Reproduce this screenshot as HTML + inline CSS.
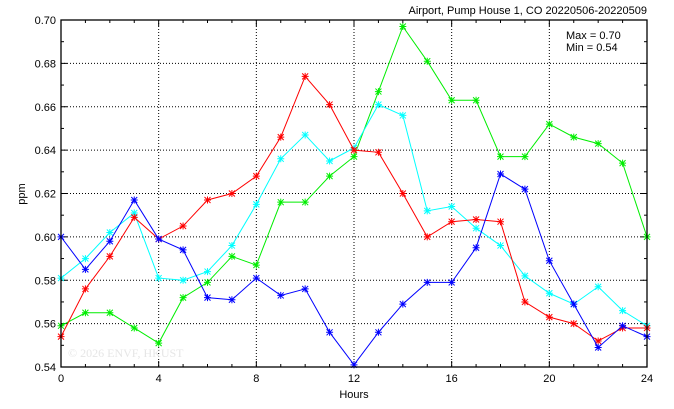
<!DOCTYPE html>
<html><head><meta charset="utf-8"><style>
html,body{margin:0;padding:0;background:#fff;width:674px;height:409px;overflow:hidden}
svg text{font-family:"Liberation Sans",sans-serif;font-size:11px;fill:#000}
</style></head><body>
<svg id="s" width="674" height="409" xmlns="http://www.w3.org/2000/svg"></svg>
<script>
const s=document.getElementById('s');
const X0=61,X1=647,Y0=20,Y1=367;
const fx=h=>X0+(X1-X0)*h/24, fy=v=>Y0+(0.70-v)*(Y1-Y0)/0.16;
let o='';
o+=`<text x="647" y="14" text-anchor="end">Airport, Pump House 1, CO 20220506-20220509</text>`;
// grid
for(let h=4;h<24;h+=4)o+=`<line x1="${fx(h)}" y1="${Y0}" x2="${fx(h)}" y2="${Y1}" stroke="#000" stroke-width="1" stroke-dasharray="1,2"/>`;
for(let i=1;i<8;i++){let y=fy(0.54+i*0.02);o+=`<line x1="${X0}" y1="${y}" x2="${X1}" y2="${y}" stroke="#000" stroke-width="1" stroke-dasharray="1,2"/>`;}
// ticks
for(let h=0;h<=24;h++){let L=h%4==0?6:3;o+=`<line x1="${fx(h)}" y1="${Y1}" x2="${fx(h)}" y2="${Y1-L}" stroke="#000"/><line x1="${fx(h)}" y1="${Y0}" x2="${fx(h)}" y2="${Y0+L}" stroke="#000"/>`;}
for(let i=0;i<=16;i++){let y=fy(0.54+i*0.01),L=i%2==0?6:3;o+=`<line x1="${X0}" y1="${y}" x2="${X0+L}" y2="${y}" stroke="#000"/><line x1="${X1}" y1="${y}" x2="${X1-L}" y2="${y}" stroke="#000"/>`;}
for(let h=0;h<=24;h+=4)o+=`<text x="${fx(h)}" y="382" text-anchor="middle">${h}</text>`;
for(let i=0;i<=8;i++){let v=0.54+i*0.02;o+=`<text x="56" y="${fy(v)+4}" text-anchor="end">${v.toFixed(2)}</text>`;}
o+=`<text x="354" y="398" text-anchor="middle">Hours</text>`;
o+=`<text x="0" y="0" transform="translate(25,194) rotate(-90)" text-anchor="middle">ppm</text>`;
o+=`<text x="566" y="39">Max = 0.70</text><text x="566" y="51">Min = 0.54</text>`;
o+=`<text x="68" y="357" style="fill:#e6e6e6;font-family:'Liberation Serif',serif;font-size:12px">© 2026  ENVF, HKUST</text>`;
const D={
'#00ee00':[0.559,0.565,0.565,0.558,0.551,0.572,0.579,0.591,0.587,0.616,0.616,0.628,0.637,0.667,0.697,0.681,0.663,0.663,0.637,0.637,0.652,0.646,0.643,0.634,0.600],
'#00ffff':[0.581,0.590,0.602,0.611,0.581,0.580,0.584,0.596,0.615,0.636,0.647,0.635,0.641,0.661,0.656,0.612,0.614,0.604,0.596,0.582,0.574,0.569,0.577,0.566,0.559],
'#ff0000':[0.554,0.576,0.591,0.609,0.599,0.605,0.617,0.620,0.628,0.646,0.674,0.661,0.640,0.639,0.620,0.600,0.607,0.608,0.607,0.570,0.563,0.560,0.552,0.558,0.558],
'#0000ff':[0.600,0.585,0.598,0.617,0.599,0.594,0.572,0.571,0.581,0.573,0.576,0.556,0.541,0.556,0.569,0.579,0.579,0.595,0.629,0.622,0.589,0.569,0.549,0.559,0.554]};
for(const c in D){const p=D[c].map((v,h)=>[fx(h),fy(v)]);
o+=`<polyline fill="none" stroke="${c}" stroke-width="1" points="${p.map(a=>a.join(',')).join(' ')}"/>`;
p.forEach(([x,y])=>{o+=`<path d="M${x-3},${y-3}L${x+3},${y+3}M${x-3},${y+3}L${x+3},${y-3}M${x},${y-3.5}V${y+3.5}M${x-3.5},${y}H${x+3.5}" stroke="${c}" stroke-width="1"/>`;});}
o+=`<rect x="${X0}" y="${Y0}" width="${X1-X0}" height="${Y1-Y0}" fill="none" stroke="#000" stroke-width="1.3"/>`;
s.innerHTML=o;
</script>
</body></html>
